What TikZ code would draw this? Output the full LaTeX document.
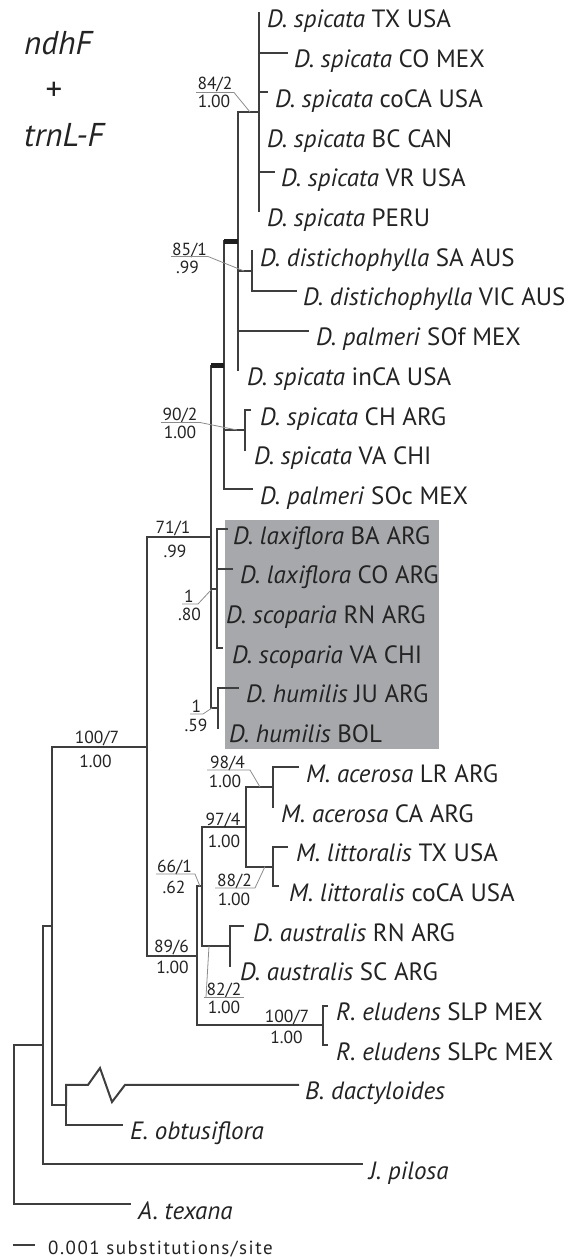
\documentclass[tikz,border=0pt]{standalone}
\usepackage{fontspec}
\setmainfont{PT Sans}
\definecolor{lc}{RGB}{62,62,62}
\definecolor{bc}{RGB}{30,30,30}
\definecolor{ldr}{RGB}{140,140,140}
\definecolor{boxc}{RGB}{167,168,171}
\definecolor{txt}{RGB}{35,35,35}
\begin{document}
\begin{tikzpicture}[x=1pt,y=-1pt,
  br/.style={draw=lc,line width=2pt,line cap=rect,line join=miter},
  thickbar/.style={draw=bc,line width=5.5pt},
  ldrline/.style={draw=ldr,line width=0.8pt},
  tiplab/.style={anchor=base west,inner sep=0pt,text=txt,font=\fontsize{25}{25}\selectfont},
  sup/.style={anchor=base,inner sep=0pt,text=txt,font=\fontsize{17.5}{17.5}\selectfont},
  ttl/.style={inner sep=0pt,text=txt,font=\fontsize{33}{33}\selectfont},
]
\useasboundingbox (0,0) rectangle (577,1257);
\fill[boxc] (225,520) rectangle (439,749);

% internal nodes
\coordinate (R) at (14,1045);
\coordinate (N43) at (43,1045);
\coordinate (N52) at (52,925.6);
\coordinate (BE) at (66,1104.8);
\coordinate (IN) at (147,746.5);
\coordinate (A71) at (211,537);
\coordinate (T224) at (224,365.5);
\coordinate (T238) at (238,241.5);
\coordinate (SP) at (259,112);
\coordinate (DI) at (252,271);
\coordinate (CV) at (245,430);
\coordinate (L80) at (217,588.6);
\coordinate (HU) at (218,707.8);
\coordinate (A89) at (197,956);
\coordinate (G66) at (202,886.4);
\coordinate (M97) at (246,827);
\coordinate (AC) at (273,787);
\coordinate (LI) at (273,866.5);
\coordinate (AU) at (230,946);
\coordinate (RE) at (323,1025.4);

% tip ends
\coordinate (e0) at (259,13);
\coordinate (e1) at (287,52.7);
\coordinate (e2) at (267,92.4);
\coordinate (e3) at (259,132.1);
\coordinate (e4) at (274,171.8);
\coordinate (e5) at (259,211.5);
\coordinate (e6) at (252,251.2);
\coordinate (e7) at (296,290.9);
\coordinate (e8) at (308,330.6);
\coordinate (e9) at (238,370.3);
\coordinate (e10) at (250,410);
\coordinate (e11) at (245,449.7);
\coordinate (e12) at (252,489.4);
\coordinate (e13) at (227,529.1);
\coordinate (e14) at (232,568.8);
\coordinate (e15) at (217,608.5);
\coordinate (e16) at (222,648.2);
\coordinate (e17) at (238,687.9);
\coordinate (e18) at (218,727.6);
\coordinate (e19) at (298,767.3);
\coordinate (e20) at (273,807);
\coordinate (e21) at (287,846.7);
\coordinate (e22) at (278,886.4);
\coordinate (e23) at (243,926.1);
\coordinate (e24) at (230,965.8);
\coordinate (e25) at (327,1005.5);
\coordinate (e26) at (327,1045.2);
\coordinate (e27) at (298,1084.9);
\coordinate (e28) at (122,1124.6);
\coordinate (e29) at (362,1164.3);
\coordinate (e30) at (130,1204);
\coordinate (zz1) at (88,1084.9);
\coordinate (zz2) at (100,1068);
\coordinate (zz3) at (112,1102);
\coordinate (zz4) at (125,1084.9);

% branches
\foreach \p/\c in {R/N43,R/e30,N43/N52,N43/e29,N52/IN,N52/BE,BE/e28,
  IN/A71,IN/A89,A71/T224,A71/L80,A71/HU,T224/T238,T224/CV,T224/e12,
  T238/SP,T238/DI,T238/e8,T238/e9,SP/e0,SP/e1,SP/e2,SP/e3,SP/e4,SP/e5,
  DI/e6,DI/e7,CV/e10,CV/e11,L80/e13,L80/e14,L80/e15,L80/e16,HU/e17,HU/e18,
  A89/G66,A89/RE,G66/M97,G66/AU,M97/AC,M97/LI,AC/e19,AC/e20,LI/e21,LI/e22,
  AU/e23,AU/e24,RE/e25,RE/e26}
  \draw[br] (\p) |- (\c);
\draw[br] (BE) |- (zz1) -- (zz2) -- (zz3) -- (zz4) -- (e27);
\draw[thickbar] (T224 |- T238) -- (T238);
\draw[thickbar] (A71 |- T224) -- (T224);

% tip labels
\node[tiplab] (t0) at (267,28) {\textit{D. spicata} TX USA};
\node[tiplab] (t1) at (294,67.7) {\textit{D. spicata} CO MEX};
\node[tiplab] (t2) at (275,107.4) {\textit{D. spicata} coCA USA};
\node[tiplab] (t3) at (267,147.1) {\textit{D. spicata} BC CAN};
\node[tiplab] (t4) at (281,186.8) {\textit{D. spicata} VR USA};
\node[tiplab] (t5) at (267,226.5) {\textit{D. spicata} PERU};
\node[tiplab] (t6) at (260,266.2) {\textit{D. distichophylla} SA AUS};
\node[tiplab] (t7) at (303,305.9) {\textit{D. distichophylla} VIC AUS};
\node[tiplab] (t8) at (316,345.6) {\textit{D. palmeri} SOf MEX};
\node[tiplab] (t9) at (247,385.3) {\textit{D. spicata} inCA USA};
\node[tiplab] (t10) at (260,425) {\textit{D. spicata} CH ARG};
\node[tiplab] (t11) at (254,464.7) {\textit{D. spicata} VA CHI};
\node[tiplab] (t12) at (260,504.4) {\textit{D. palmeri} SOc MEX};
\node[tiplab] (t13) at (233,544.1) {\textit{D. laxiflora} BA ARG};
\node[tiplab] (t14) at (240,583.8) {\textit{D. laxiflora} CO ARG};
\node[tiplab] (t15) at (226,623.5) {\textit{D. scoparia} RN ARG};
\node[tiplab] (t16) at (232,663.2) {\textit{D. scoparia} VA CHI};
\node[tiplab] (t17) at (246,702.9) {\textit{D. humilis} JU ARG};
\node[tiplab] (t18) at (229,742.6) {\textit{D. humilis} BOL};
\node[tiplab] (t19) at (306,782.3) {\textit{M. acerosa} LR ARG};
\node[tiplab] (t20) at (281,822) {\textit{M. acerosa} CA ARG};
\node[tiplab] (t21) at (296,861.7) {\textit{M. littoralis} TX USA};
\node[tiplab] (t22) at (289,901.4) {\textit{M. littoralis} coCA USA};
\node[tiplab] (t23) at (253,941.1) {\textit{D. australis} RN ARG};
\node[tiplab] (t24) at (240,980.8) {\textit{D. australis} SC ARG};
\node[tiplab] (t25) at (336,1020.5) {\textit{R. eludens} SLP MEX};
\node[tiplab] (t26) at (336,1060.2) {\textit{R. eludens} SLPc MEX};
\node[tiplab] (t27) at (305,1099.9) {\textit{B. dactyloides}};
\node[tiplab] (t28) at (130,1139.6) {\textit{E. obtusiflora}};
\node[tiplab] (t29) at (369,1179.3) {\textit{J. pilosa}};
\node[tiplab] (t30) at (138,1219) {\textit{A. texana}};

% support values
\node[sup] (s1a) at (215,90) {84/2};
\node[sup] (s1b) at (214,108) {1.00};
\coordinate (u1a) at (196,92.5); \coordinate (u1b) at (234,92.5); \coordinate (l1) at (250,112);
\draw[ldrline] (u1a) -- (u1b) -- (l1);

\node[sup] (s2a) at (189.5,255) {85/1};
\node[sup] (s2b) at (187.5,273) {.99};
\coordinate (u2a) at (171,256.5); \coordinate (u2b) at (208,256.5); \coordinate (l2) at (244,271);
\draw[ldrline] (u2a) -- (u2b) -- (l2);

\node[sup] (s3a) at (180,420) {90/2};
\node[sup] (s3b) at (180,438) {1.00};
\coordinate (u3a) at (161,422.5); \coordinate (u3b) at (200,422.5); \coordinate (l3) at (237,430);
\draw[ldrline] (u3a) -- (u3b) -- (l3);

\node[sup] (s4a) at (173,533) {71/1};
\node[sup] (s4b) at (175,557) {.99};

\node[sup] (s5a) at (189,602) {1};
\node[sup] (s5b) at (189.5,620) {.80};
\coordinate (u5a) at (182,604); \coordinate (u5b) at (198,604); \coordinate (l5) at (211,590);
\draw[ldrline] (u5a) -- (u5b) -- (l5);

\node[sup] (s6a) at (196.5,712) {1};
\node[sup] (s6b) at (196,731) {.59};
\coordinate (u6a) at (190,714); \coordinate (u6b) at (203,714); \coordinate (l6) at (212,708);
\draw[ldrline] (u6a) -- (u6b) -- (l6);

\node[sup] (s7a) at (97,743) {100/7};
\node[sup] (s7b) at (95.5,767) {1.00};

\node[sup] (s8a) at (227.5,768) {98/4};
\node[sup] (s8b) at (225,787) {1.00};
\coordinate (u8a) at (207,770); \coordinate (u8b) at (250,770); \coordinate (l8) at (260,787);
\draw[ldrline] (u8a) -- (u8b) -- (l8);

\node[sup] (s9a) at (223,825) {97/4};
\node[sup] (s9b) at (224,847) {1.00};

\node[sup] (s10a) at (234.5,886) {88/2};
\node[sup] (s10b) at (234,905) {1.00};
\coordinate (u10a) at (215,888); \coordinate (u10b) at (255,888); \coordinate (l10) at (265,866.5);
\draw[ldrline] (u10a) -- (u10b) -- (l10);

\node[sup] (s11a) at (174.5,872) {66/1};
\node[sup] (s11b) at (174,893) {.62};
\coordinate (u11a) at (156,874); \coordinate (u11b) at (195,874); \coordinate (l11) at (200,886.4);
\draw[ldrline] (u11a) -- (u11b) -- (l11);

\node[sup] (s12a) at (171.5,952) {89/6};
\node[sup] (s12b) at (172.5,973) {1.00};

\node[sup] (s13a) at (224,995) {82/2};
\node[sup] (s13b) at (224,1013) {1.00};
\coordinate (u13a) at (204,997); \coordinate (u13b) at (244,997);
\coordinate (u13c) at (206,997); \coordinate (l13) at (209,946);
\draw[ldrline] (u13a) -- (u13b);
\draw[ldrline] (u13c) -- (l13);

\node[sup] (s14a) at (287,1022) {100/7};
\node[sup] (s14b) at (286.5,1043) {1.00};

% title
\node[ttl,anchor=base west] (ti1) at (24,55) {\itshape ndhF};
\node[ttl,anchor=center] (ti2) at (54,91.5) {+};
\node[ttl,anchor=base west] (ti3) at (24,147) {\itshape trnL-F};

% scale bar
\coordinate (sb1) at (13,1245); \coordinate (sb2) at (35,1245);
\draw[draw=lc,line width=2pt] (sb1) -- (sb2);
\node[anchor=base west,inner sep=0pt,text=txt,font=\fontsize{19}{19}\selectfont\addfontfeature{LetterSpace=8}] (sbl) at (48,1254) {0.001 substitutions/site};
\end{tikzpicture}
\end{document}
